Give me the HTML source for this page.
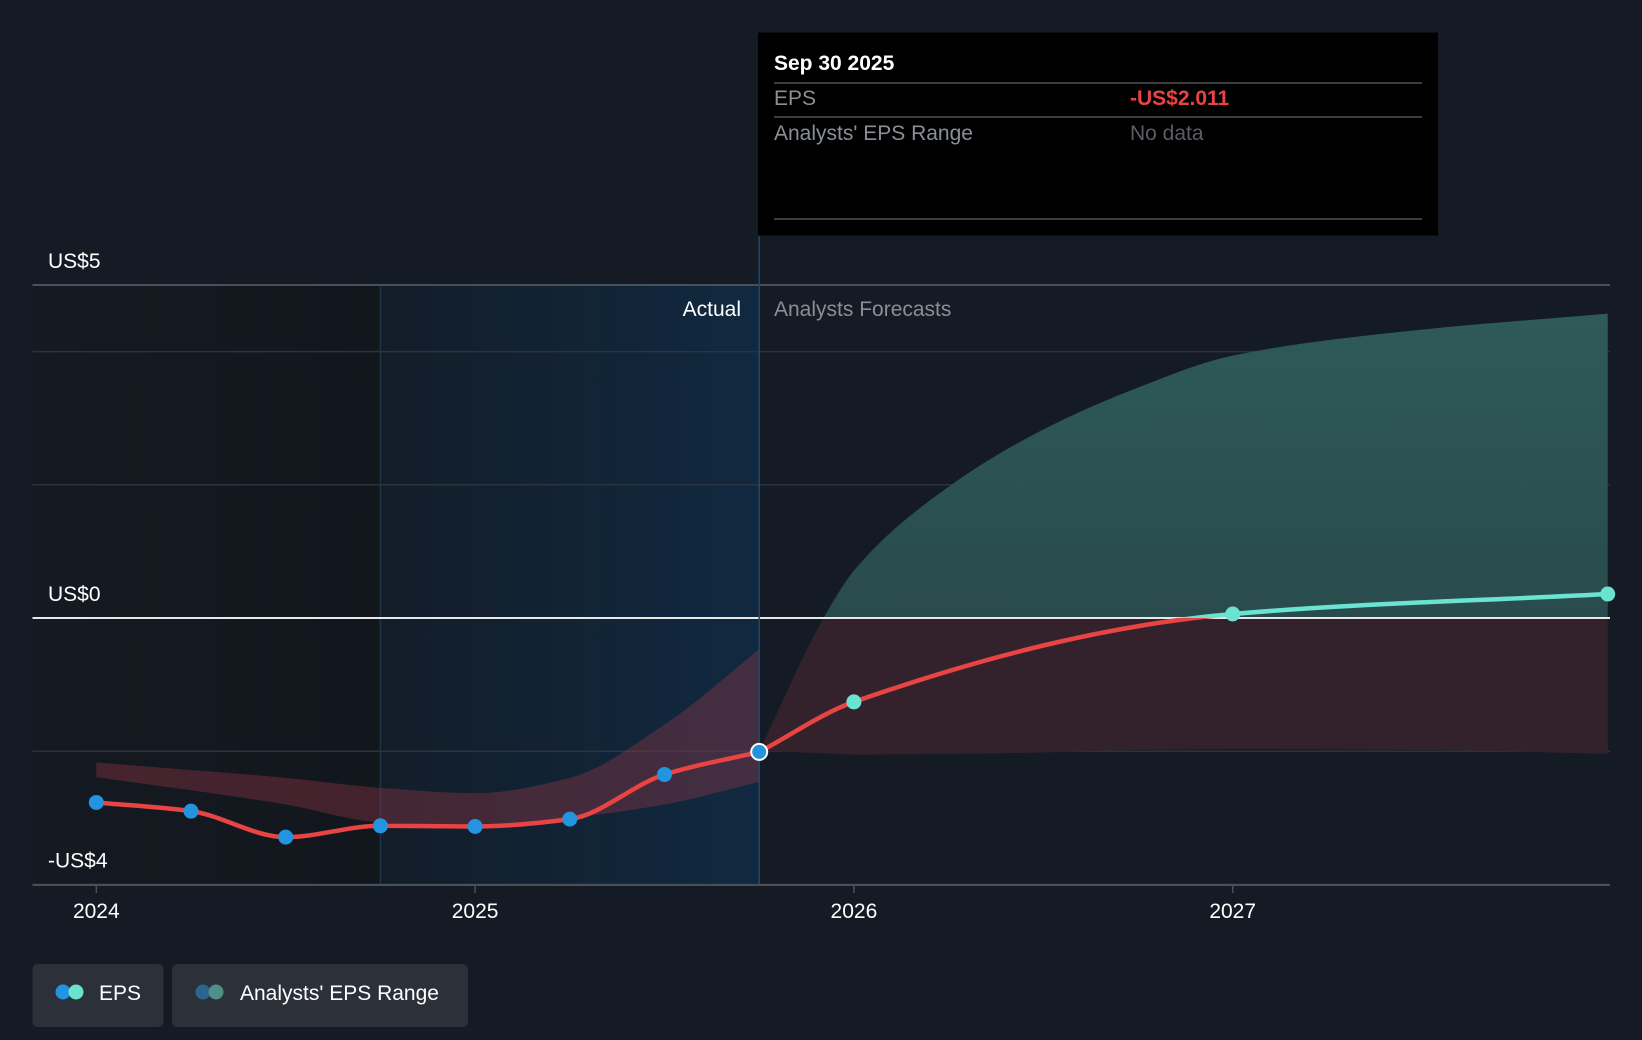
<!DOCTYPE html>
<html><head><meta charset="utf-8"><style>
html,body{margin:0;padding:0;background:#151b24;}
svg{display:block;font-family:"Liberation Sans",sans-serif;}
</style></head><body>
<svg id="chart" width="1642" height="1040" viewBox="0 0 1642 1040" xmlns="http://www.w3.org/2000/svg">
<defs>
<linearGradient id="pastBg" x1="0" x2="1" y1="0" y2="0"><stop offset="0" stop-color="#151a22"/><stop offset="1" stop-color="#12161d"/></linearGradient>
<linearGradient id="actBg" x1="0" x2="1" y1="0" y2="0"><stop offset="0" stop-color="#121d29"/><stop offset="1" stop-color="#112940"/></linearGradient>
<linearGradient id="tealG" x1="0" x2="0" y1="0" y2="1"><stop offset="0" stop-color="#2e5a59"/><stop offset="1" stop-color="#274447"/></linearGradient>
<clipPath id="above"><rect x="0" y="0" width="1642" height="618"/></clipPath>
<clipPath id="below"><rect x="0" y="618" width="1642" height="400"/></clipPath>
</defs>
<rect x="0" y="0" width="1642" height="1040" fill="#151b24"/>
<g id="plot"></g>
</svg>
<script>
const yearTicks=[2024,2025,2026,2027];
const yTicks=[5,4,2,0,-2,-4];
const yLabels=[{v:5,t:"US$5"},{v:0,t:"US$0"},{v:-4,t:"-US$4"}];
const epsDates=[2024.0,2024.25,2024.5,2024.75,2025.0,2025.25,2025.5,2025.75];
const epsValues=[-2.77,-2.9,-3.29,-3.12,-3.13,-3.02,-2.35,-2.011];
const fcDates=[2025.75,2026.0,2027.0,2027.99];
const fcValues=[-2.011,-1.26,0.06,0.36];
const pastRangeDates=[2024.0,2024.5,2024.75,2025.0,2025.25,2025.5,2025.75];
const pastRangeHigh=[-2.17,-2.4,-2.55,-2.63,-2.4,-1.6,-0.47];
const pastRangeLow=[-2.39,-2.8,-3.07,-3.12,-3.0,-2.8,-2.46];
const fcRangeDates=[2025.75,2025.92,2026.0,2026.25,2026.5,2026.75,2027.0,2027.5,2027.99];
const fcRangeHigh=[-2.0,0.0,0.71,1.97,2.83,3.46,3.94,4.33,4.57];
const fcRangeLow=[-2.0,-2.03,-2.05,-2.04,-2.02,-1.98,-1.97,-1.98,-2.04];

const X=t=>96.3+(t-2024)*378.8;
const Y=v=>618-v*66.6;
const NS="http://www.w3.org/2000/svg";
const g=document.getElementById('plot');
function mk(tag,attrs,parent){const e=document.createElementNS(NS,tag);for(const k in attrs)e.setAttribute(k,attrs[k]);(parent||g).appendChild(e);return e;}
// monotone cubic (x-monotone); segs returns bezier segments
function segs(p){const n=p.length;if(n<2)return[];const dx=[],m=[],s=[];for(let i=0;i<n-1;i++){dx[i]=p[i+1][0]-p[i][0];s[i]=(p[i+1][1]-p[i][1])/dx[i];}
m[0]=s[0];m[n-1]=s[n-2];for(let i=1;i<n-1;i++){if(s[i-1]*s[i]<=0)m[i]=0;else{const w1=2*dx[i]+dx[i-1],w2=dx[i]+2*dx[i-1];m[i]=(w1+w2)/(w1/s[i-1]+w2/s[i]);}}
const out=[];for(let i=0;i<n-1;i++){const h=dx[i]/3;out.push([p[i][0]+h,p[i][1]+m[i]*h,p[i+1][0]-h,p[i+1][1]-m[i+1]*h,p[i+1][0],p[i+1][1]]);}return out;}
function smooth(p){let d="M"+p[0][0]+","+p[0][1];segs(p).forEach(c=>{d+=" C"+c.join(" ");});return d;}
function pts(ds,vs){return ds.map((d,i)=>[X(d),Y(vs[i])]);}
function band(ds,hi,lo){const up=pts(ds,hi),dn=pts(ds,lo);let d=smooth(up);d+=" L"+dn[dn.length-1][0]+","+dn[dn.length-1][1];
const sg=segs(dn);for(let i=sg.length-1;i>=0;i--){const c=sg[i];const start=dn[i];d+=" C"+c[2]+","+c[3]+" "+c[0]+","+c[1]+" "+start[0]+","+start[1];}return d+" Z";}

let e=mk('rect',{x:32.5,y:285,width:X(2024.75)-32.5,height:600,fill:'url(#pastBg)'});

e=mk('rect',{x:X(2024.75),y:285,width:X(2025.75)-X(2024.75),height:600,fill:'url(#actBg)'});

e=mk('line',{x1:X(2024.75),x2:X(2024.75),y1:285,y2:885,stroke:'#1f3346','stroke-width':1.5});


yTicks.forEach(v=>{const l=mk('line',{x1:32.5,x2:1610,y1:Y(v),y2:Y(v),stroke:v===0?'#e8e8e8':(v===5?'#4a5058':'#2c333c'),'stroke-width':v===0||v===5?2:1.5});
});

const fb=band(fcRangeDates,fcRangeHigh,fcRangeLow);
e=mk('path',{d:fb,fill:'url(#tealG)','clip-path':'url(#above)'});

e=mk('path',{d:fb,fill:'#33222b','clip-path':'url(#below)'});

e=mk('path',{d:band(pastRangeDates,pastRangeHigh,pastRangeLow),fill:'rgba(150,55,70,0.38)'});


e=mk('line',{x1:32.5,x2:1610,y1:Y(0),y2:Y(0),stroke:'#e8e8e8','stroke-width':2});


e=mk('line',{x1:X(2025.75),x2:X(2025.75),y1:236,y2:885,stroke:'#1f4a6e','stroke-width':1.5});


const fp=pts(fcDates,fcValues);
e=mk('path',{d:smooth(fp),fill:'none',stroke:'#e84444','stroke-width':4.5,'clip-path':'url(#below)'});

e=mk('path',{d:smooth(fp),fill:'none',stroke:'#6ae3d0','stroke-width':4.5,'clip-path':'url(#above)'});

e=mk('path',{d:smooth(pts(epsDates,epsValues)),fill:'none',stroke:'#e84444','stroke-width':4.5});


epsDates.forEach((d,i)=>{const last=i===epsDates.length-1;const c=mk('circle',{cx:X(d),cy:Y(epsValues[i]),r:last?8:7.5,fill:'#2394e0',stroke:last?'#ffffff':'none','stroke-width':2});
});
fcDates.forEach((d,i)=>{if(i===0)return;const c=mk('circle',{cx:X(d),cy:Y(fcValues[i]),r:7.5,fill:'#6ae3d0'});
});

e=mk('line',{x1:32.5,x2:1610,y1:885,y2:885,stroke:'#4a5058','stroke-width':2});

yearTicks.forEach(t=>{const tk=mk('line',{x1:X(t),x2:X(t),y1:885,y2:893,stroke:'#4a5058','stroke-width':1.5});

const tx=mk('text',{x:X(t),y:918,'text-anchor':'middle',fill:'#ffffff','font-size':21});tx.textContent=String(t);
});
yLabels.forEach(o=>{const tx=mk('text',{x:48,y:Y(o.v)-17,fill:'#ffffff','font-size':21});tx.textContent=o.t;
});

e=mk('text',{x:741,y:316,'text-anchor':'end',fill:'#ffffff','font-size':21});e.textContent='Actual';

e=mk('text',{x:774,y:316,fill:'#8a8f96','font-size':21});e.textContent='Analysts Forecasts';


const tt=mk('g',{});
mk('rect',{x:758,y:32.5,width:680,height:203,fill:'#000000'},tt);
let t=mk('text',{x:774,y:70,fill:'#ffffff','font-size':21,'font-weight':'bold'},tt);t.textContent='Sep 30 2025';
mk('line',{x1:774,x2:1422,y1:83,y2:83,stroke:'#3a3d42','stroke-width':2},tt);
t=mk('text',{x:774,y:105,fill:'#8a8f96','font-size':21},tt);t.textContent='EPS';
t=mk('text',{x:1130,y:105,fill:'#e84444','font-size':21,'font-weight':'bold'},tt);t.textContent='-US$2.011';
mk('line',{x1:774,x2:1422,y1:117,y2:117,stroke:'#3a3d42','stroke-width':2},tt);
t=mk('text',{x:774,y:140,fill:'#8a8f96','font-size':21},tt);t.textContent="Analysts' EPS Range";
t=mk('text',{x:1130,y:140,fill:'#5a5e64','font-size':21},tt);t.textContent='No data';
mk('line',{x1:774,x2:1422,y1:219,y2:219,stroke:'#3a3d42','stroke-width':2},tt);

const l1=mk('g',{});
mk('rect',{x:32.5,y:964,width:131,height:63,rx:5,fill:'#2b3039'},l1);
mk('circle',{cx:63,cy:992,r:7.5,fill:'#2394e0'},l1);mk('circle',{cx:76,cy:992,r:7.5,fill:'#6ae3d0'},l1);
t=mk('text',{x:99,y:1000,fill:'#ffffff','font-size':21},l1);t.textContent='EPS';
const l2=mk('g',{});
mk('rect',{x:172,y:964,width:296,height:63,rx:5,fill:'#2b3039'},l2);
mk('circle',{cx:203,cy:992,r:7.5,fill:'#2a6590'},l2);mk('circle',{cx:216,cy:992,r:7.5,fill:'#4e8f88'},l2);
t=mk('text',{x:240,y:1000,fill:'#ffffff','font-size':21},l2);t.textContent="Analysts' EPS Range";
</script>
</body></html>
